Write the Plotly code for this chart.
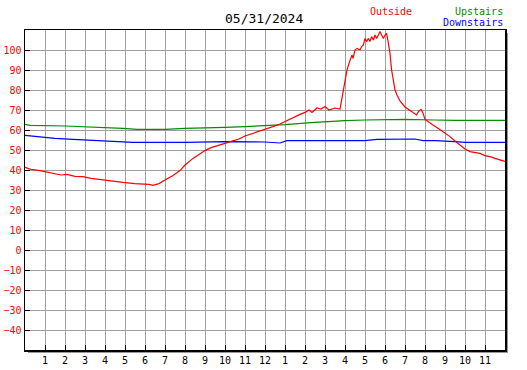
import plotly.graph_objects as go

# Data (hours since midnight, deg F)
out_h = [0, 0.3, 0.75, 1.2, 1.4, 1.8, 2.1, 2.5, 2.9, 3.3, 3.8, 4.3, 4.9, 5.5, 6.0, 6.2, 6.4, 6.7,
         7.0, 7.4, 7.75, 8.0, 8.4, 8.75, 9.0, 9.3, 9.7, 10.0, 10.3, 10.7, 11.0, 11.4, 11.75, 12.0,
         12.4, 12.75, 13.0, 13.25, 13.5, 13.75, 14.0, 14.2, 14.35, 14.6, 14.8, 15.0, 15.2, 15.5,
         15.75, 15.83, 15.92, 16.0, 16.1, 16.2, 16.25, 16.35, 16.4, 16.5, 16.6, 16.75, 16.83,
         16.92, 17.0, 17.08, 17.17, 17.25, 17.33, 17.42, 17.5, 17.58, 17.67, 17.75, 17.83, 17.92,
         18.0, 18.08, 18.17, 18.25, 18.33, 18.42, 18.5, 18.6, 18.75, 19.0, 19.25, 19.4, 19.58,
         19.67, 19.8, 19.9, 20.0, 20.17, 20.4, 20.67, 21.0, 21.25, 21.5, 21.75, 22.0, 22.25, 22.5,
         22.75, 23.0, 23.25, 23.5, 23.75, 24.0]
out_v = [41.3, 40.3, 39.7, 38.8, 38.3, 37.5, 37.8, 36.8, 36.7, 35.8, 35.2, 34.5, 33.8, 33.2, 33.0,
         32.8, 32.3, 33.2, 35.0, 37.2, 39.7, 42.5, 45.8, 48.3, 49.7, 51.2, 52.2, 53.3, 54.3, 55.5,
         57.0, 58.3, 59.3, 60.3, 61.7, 63.0, 64.2, 65.8, 67.0, 67.8, 68.8, 70.0, 68.8, 71.0, 70.5,
         71.7, 70.0, 71.0, 70.5, 75.0, 80.0, 85.8, 90.0, 93.3, 95.0, 97.5, 95.8, 100.0, 100.8,
         100.0, 101.7, 102.5, 105.8, 104.2, 105.8, 104.2, 106.7, 105.0, 107.5, 105.8, 107.5, 109.2,
         107.5, 105.8, 107.5, 108.3, 103.3, 98.3, 90.0, 83.3, 80.0, 77.5, 74.5, 71.5, 69.5, 68.7,
         67.5, 69.2, 70.3, 68.5, 65.3, 64.0, 62.5, 60.8, 58.7, 56.7, 54.5, 52.5, 50.5, 49.2, 48.7,
         48.3, 47.2, 46.7, 45.8, 45.0, 44.3]

up_h = [0, 0.25, 2, 3, 4, 4.9, 5.6, 6.5, 7, 8, 9.25, 10, 11, 11.75, 12.2, 13, 14.3, 15, 16, 17,
        19, 20.5, 21.5, 24]
up_v = [62.8, 62.3, 62.0, 61.7, 61.2, 60.8, 60.3, 60.3, 60.3, 60.8, 61.0, 61.3, 61.7, 62.0, 62.5,
        62.7, 63.7, 64.2, 64.7, 65.0, 65.3, 65.0, 64.8, 64.8]

dn_h = [0, 0.25, 0.8, 1.5, 2.4, 3.3, 4.1, 5.4, 6.5, 8, 10, 12, 12.75, 13.1, 15, 17, 17.6, 19.5,
        19.9, 20.5, 21.5, 22, 24]
dn_v = [57.3, 57.0, 56.3, 55.8, 55.3, 54.8, 54.3, 53.8, 53.8, 53.8, 54.2, 54.0, 53.5, 54.7, 54.7,
        54.7, 55.3, 55.5, 54.7, 54.7, 54.2, 53.8, 53.8]

x_tickvals = list(range(1, 24))
x_ticktext = [str(h) for h in range(1, 12)] + ["12"] + [str(h) for h in range(1, 12)]
y_tickvals = list(range(-40, 101, 10))

title_text = "05/31/2024"
series_names = ["Outside", "Upstairs", "Downstairs"]
colors = ["#ff0000", "#008c00", "#0000ff"]

MONO = "DejaVu Sans Mono"

fig = go.Figure()
fig.add_trace(go.Scatter(x=up_h, y=up_v, mode="lines", line=dict(color=colors[1], width=1.2),
                         name=series_names[1]))
fig.add_trace(go.Scatter(x=dn_h, y=dn_v, mode="lines", line=dict(color=colors[2], width=1.2),
                         name=series_names[2]))
fig.add_trace(go.Scatter(x=out_h, y=out_v, mode="lines", line=dict(color=colors[0], width=1.2),
                         name=series_names[0]))

W, H = 527, 370
L, R, T, B = 25, 22, 30, 20
pw, ph = W - L - R, H - T - B

fig.update_layout(
    width=W, height=H,
    margin=dict(l=L, r=R, t=T, b=B, pad=0),
    paper_bgcolor="white", plot_bgcolor="white",
    showlegend=False,
    xaxis=dict(range=[0, 24], tickvals=x_tickvals, ticktext=x_ticktext,
               showgrid=True, gridcolor="#a0a0a0", gridwidth=1,
               ticks="inside", ticklen=5, tickcolor="black", tickwidth=1,
               showline=True, linecolor="black", linewidth=1.5, mirror=True,
               tickfont=dict(family=MONO, size=10, color="black"),
               zeroline=False, automargin=False, fixedrange=True),
    yaxis=dict(range=[-50, 110], tickvals=y_tickvals,
               showgrid=True, gridcolor="#a0a0a0", gridwidth=1,
               ticks="inside", ticklen=5, tickcolor="black", tickwidth=1,
               showline=True, linecolor="black", linewidth=1.5, mirror=True,
               tickfont=dict(family=MONO, size=10, color="#ff0000"),
               zeroline=False, automargin=False, fixedrange=True),
)

# drop shadow along right and bottom edges
dx, dy = 1.0 / pw, 1.0 / ph
fig.add_shape(type="rect", xref="paper", yref="paper", x0=1 + 0.5 * dx, x1=1 + 3 * dx,
              y0=-3 * dy, y1=1 - 3 * dy, fillcolor="#999999", line=dict(width=0), layer="below")
fig.add_shape(type="rect", xref="paper", yref="paper", x0=3 * dx, x1=1 + 3 * dx,
              y0=-3 * dy, y1=-0.5 * dy, fillcolor="#999999", line=dict(width=0), layer="below")

fig.add_annotation(text=title_text, xref="paper", yref="paper", x=(264 - L) / pw, y=1 + (T - 19) / ph,
                   showarrow=False, font=dict(family=MONO, size=13, color="black"),
                   xanchor="center", yanchor="middle")
fig.add_annotation(text=series_names[0], xref="paper", yref="paper", x=(414 - L) / pw,
                   y=1 + (T - 11) / ph, showarrow=False,
                   font=dict(family=MONO, size=10, color=colors[0]), xanchor="right", yanchor="middle")
fig.add_annotation(text=series_names[1], xref="paper", yref="paper", x=(505 - L) / pw,
                   y=1 + (T - 11) / ph, showarrow=False,
                   font=dict(family=MONO, size=10, color=colors[1]), xanchor="right", yanchor="middle")
fig.add_annotation(text=series_names[2], xref="paper", yref="paper", x=(505 - L) / pw,
                   y=1 + (T - 23) / ph, showarrow=False,
                   font=dict(family=MONO, size=10, color=colors[2]), xanchor="right", yanchor="middle")

fig.write_html("out.html", config={"displayModeBar": False, "staticPlot": True},
               post_script="document.body.style.margin='0';document.body.style.padding='0';"
                           "document.body.style.overflow='hidden';")
